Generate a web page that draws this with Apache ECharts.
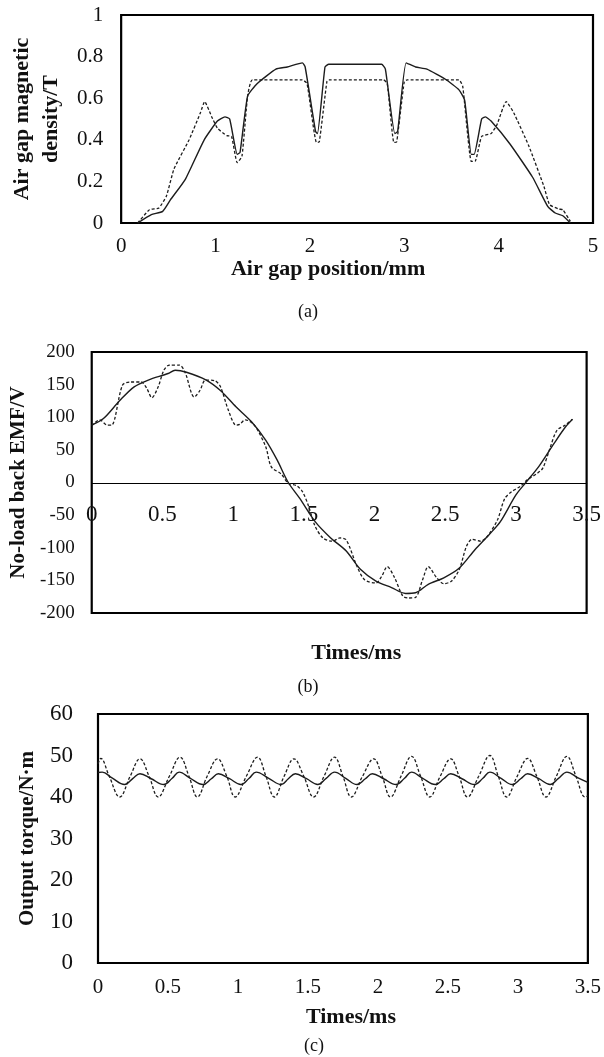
<!DOCTYPE html>
<html>
<head>
<meta charset="utf-8">
<script src="https://cdn.jsdelivr.net/npm/echarts@6/dist/echarts.min.js"></script>
<style>
html,body{margin:0;padding:0;background:#fff;}
#c{width:604px;height:1057px;}
</style>
</head>
<body>
<div id="c"></div>
<script>
// ---------- (a) Air gap magnetic density ----------
const airSolid = [
 [0.176,0],[0.32,0.04],[0.44,0.056],[0.52,0.11],[0.68,0.21],[0.88,0.40],[1.02,0.49],[1.10,0.51],[1.15,0.50],
 [1.23,0.33],[1.26,0.34],[1.34,0.61],[1.44,0.67],[1.64,0.74],[1.76,0.75],[1.92,0.77],[1.95,0.75],
 [2.06,0.44],[2.08,0.43],[2.16,0.75],[2.20,0.763],[2.76,0.763],[2.80,0.74],[2.90,0.43],[2.93,0.44],
 [3.02,0.77],[3.12,0.75],[3.24,0.74],[3.44,0.69],[3.58,0.64],[3.64,0.59],[3.71,0.33],[3.74,0.33],
 [3.82,0.50],[3.86,0.51],[3.92,0.49],[4.12,0.38],[4.36,0.22],[4.52,0.08],[4.60,0.048],[4.68,0.035],[4.76,0]
];
const airDashed = [
 [0.176,0],[0.30,0.064],[0.40,0.072],[0.48,0.13],[0.56,0.26],[0.72,0.40],[0.84,0.53],[0.885,0.584],[0.96,0.51],
 [1.02,0.456],[1.12,0.42],[1.17,0.416],[1.23,0.29],[1.28,0.32],[1.34,0.61],[1.39,0.688],[1.92,0.688],[1.97,0.67],
 [2.07,0.387],[2.10,0.39],[2.18,0.68],[2.20,0.688],[2.78,0.688],[2.82,0.67],[2.89,0.387],[2.92,0.39],[3.00,0.68],
 [3.03,0.688],[3.58,0.688],[3.62,0.656],[3.71,0.296],[3.75,0.296],[3.82,0.416],[3.92,0.43],[3.98,0.47],[4.08,0.584],
 [4.16,0.53],[4.32,0.37],[4.48,0.176],[4.54,0.088],[4.64,0.067],[4.68,0.064],[4.76,0.008]
];

// ---------- (b) No-load back EMF ----------
const emfSolid = [
 [0,88],[0.083,98],[0.20,126],[0.30,146.6],[0.40,157],[0.54,167],[0.59,172],[0.67,169],[0.81,157],[0.91,141],
 [1.02,116],[1.13,93],[1.23,65],[1.31,35],[1.39,0],[1.47,-24],[1.58,-60],[1.69,-85],[1.80,-105],[1.90,-133],
 [2.01,-151],[2.12,-161],[2.22,-170],[2.29,-169],[2.38,-156],[2.49,-146],[2.60,-131],[2.71,-103],[2.81,-80],
 [2.89,-60],[3.00,-19],[3.07,0],[3.16,24],[3.27,60],[3.35,85],[3.40,97]
];
const emfDashed = [
 [0,87],[0.056,96],[0.11,88],[0.14,88],[0.217,149],[0.27,154],[0.35,154],[0.39,144],[0.425,130],[0.47,146.6],
 [0.51,172],[0.55,180],[0.62,180],[0.66,169],[0.725,131],[0.765,141],[0.805,157],[0.87,156],[0.91,147],[0.966,111],
 [1.02,88],[1.046,89],[1.086,96],[1.15,88],[1.23,55],[1.27,24],[1.34,13],[1.39,-1],[1.45,-5],[1.49,-14],[1.53,-34],
 [1.58,-67],[1.635,-85],[1.70,-90],[1.755,-85],[1.80,-88],[1.875,-128],[1.93,-149],[2.01,-154],[2.05,-144],
 [2.09,-129],[2.14,-145],[2.20,-174],[2.24,-177],[2.29,-176],[2.34,-149],[2.38,-129],[2.44,-146],[2.49,-155],
 [2.545,-151],[2.60,-133],[2.65,-98],[2.69,-87],[2.75,-90],[2.80,-82],[2.87,-57],[2.92,-25],[2.97,-14],[3.03,-6],
 [3.08,4],[3.15,14],[3.19,22],[3.24,52],[3.29,80],[3.35,88],[3.40,97]
];

// ---------- (c) Output torque ----------
const torqueSolid = [
 [0.00,45.9],[0.03,46.0],[0.10,44.6],[0.19,43.0],[0.25,44.5],[0.30,45.6],[0.38,44.4],[0.47,43.0],[0.53,44.5],
 [0.58,46.0],[0.66,44.5],[0.75,43.0],[0.81,44.4],[0.86,45.6],[0.94,44.4],[1.02,43.0],[1.08,44.5],[1.13,46.0],
 [1.22,44.5],[1.31,43.0],[1.36,44.4],[1.41,45.6],[1.49,44.4],[1.57,43.0],[1.63,44.5],[1.69,46.0],[1.77,44.5],
 [1.85,43.0],[1.91,44.4],[1.96,45.6],[2.04,44.4],[2.13,43.0],[2.19,44.5],[2.24,46.0],[2.32,44.5],[2.41,43.0],
 [2.47,44.4],[2.52,45.6],[2.60,44.4],[2.69,43.0],[2.75,44.5],[2.80,46.0],[2.88,44.5],[2.96,43.0],[3.02,44.4],
 [3.07,45.6],[3.15,44.4],[3.23,43.0],[3.29,44.5],[3.35,46.0],[3.43,44.6],[3.50,43.5]
];
const torqueDashed = [
 [0.00,48.0],[0.02,49.3],[0.08,45.0],[0.155,40.0],[0.23,45.0],[0.30,49.2],[0.365,45.0],[0.43,40.0],[0.51,45.0],
 [0.586,49.6],[0.65,45.0],[0.71,40.0],[0.78,45.0],[0.854,49.2],[0.92,45.0],[0.98,40.0],[1.06,45.0],[1.14,49.6],
 [1.20,45.0],[1.26,40.0],[1.33,45.0],[1.40,49.2],[1.47,45.0],[1.54,40.0],[1.615,45.0],[1.69,49.6],[1.75,45.0],
 [1.81,40.0],[1.89,45.0],[1.97,49.2],[2.03,45.0],[2.09,40.0],[2.165,45.0],[2.24,49.8],[2.305,45.0],[2.37,40.0],
 [2.445,45.0],[2.52,49.2],[2.58,45.0],[2.64,40.0],[2.72,45.0],[2.80,50.0],[2.86,45.0],[2.92,40.0],[2.995,45.0],
 [3.07,49.3],[3.135,45.0],[3.20,40.0],[3.275,45.0],[3.35,49.8],[3.415,45.0],[3.48,40.0],[3.50,40.3]
];

const captions = ['(a)', '(b)', '(c)'];
const axisTitles = {
  aX: 'Air gap position/mm', aY: 'Air gap magnetic\ndensity/T',
  bX: 'Times/ms', bY: 'No-load back EMF/V',
  cX: 'Times/ms', cY: 'Output torque/N\u00b7m'
};

const SERIF = '"Liberation Serif", "Times New Roman", serif';
const INK = '#111';

function lab(size) { return { color: INK, fontFamily: SERIF, fontSize: size }; }
function ttl(size, extra) { return Object.assign({ color: INK, fontFamily: SERIF, fontSize: size, fontWeight: 'bold' }, extra || {}); }

const solidStyle = { color: '#1c1c1c', width: 1.4 };
const dashStyle = { color: '#1c1c1c', width: 1.3, type: [3, 2] };

const chart = echarts.init(document.getElementById('c'), null, { renderer: 'canvas' });
chart.setOption({
  animation: false,
  backgroundColor: '#fff',
  grid: [
    { left: 112, top: 15, width: 481, height: 208, show: true, borderColor: '#000', borderWidth: 2.2 },
    { left: 84, top: 352, width: 505, height: 261, show: true, borderColor: '#000', borderWidth: 2.2 },
    { left: 98, top: 714, width: 494, height: 249, show: true, borderColor: '#000', borderWidth: 2.2 }
  ],
  xAxis: [
    { gridIndex: 0, type: 'value', min: 0, max: 5, interval: 1,
      axisLine: { show: false }, axisTick: { show: false }, splitLine: { show: false },
      axisLabel: Object.assign(lab(21), { margin: 13 }),
      name: axisTitles.aX, nameLocation: 'middle', nameGap: 28,
      nameTextStyle: ttl(22, { padding: [0, 58, 0, 0] }) },
    { gridIndex: 1, type: 'value', min: 0, max: 3.5, interval: 0.5, position: 'bottom', offset: -130,
      axisLine: { show: true, onZero: false, lineStyle: { color: '#000', width: 1.2 } },
      axisTick: { show: false }, splitLine: { show: false },
      axisLabel: Object.assign(lab(23), { margin: 20 }),
      name: axisTitles.bX, nameLocation: 'middle', nameGap: 159,
      nameTextStyle: ttl(22, { padding: [0, 0, 0, 34] }) },
    { gridIndex: 2, type: 'value', min: 0, max: 3.5, interval: 0.5,
      axisLine: { show: false }, axisTick: { show: false }, splitLine: { show: false },
      axisLabel: Object.assign(lab(21), { margin: 14 }),
      name: axisTitles.cX, nameLocation: 'middle', nameGap: 43,
      nameTextStyle: ttl(22, { padding: [0, 0, 0, 16] }) }
  ],
  yAxis: [
    { gridIndex: 0, type: 'value', min: 0, max: 1, interval: 0.2,
      axisLine: { show: false }, axisTick: { show: false }, splitLine: { show: false },
      axisLabel: Object.assign(lab(21), { margin: 18 }),
      name: axisTitles.aY, nameLocation: 'middle', nameGap: 52,
      nameTextStyle: ttl(22, { lineHeight: 29 }) },
    { gridIndex: 1, type: 'value', min: -200, max: 200, interval: 50,
      axisLine: { show: false }, axisTick: { show: false }, splitLine: { show: false },
      axisLabel: Object.assign(lab(19), { margin: 17 }),
      name: axisTitles.bY, nameLocation: 'middle', nameGap: 58,
      nameTextStyle: ttl(21) },
    { gridIndex: 2, type: 'value', min: 0, max: 60, interval: 10,
      axisLine: { show: false }, axisTick: { show: false }, splitLine: { show: false },
      axisLabel: Object.assign(lab(23), { margin: 25 }),
      name: axisTitles.cY, nameLocation: 'middle', nameGap: 60,
      nameTextStyle: ttl(21) }
  ],
  series: [
    { type: 'line', xAxisIndex: 0, yAxisIndex: 0, data: airSolid, symbol: 'none', smooth: 0.15, lineStyle: solidStyle },
    { type: 'line', xAxisIndex: 0, yAxisIndex: 0, data: airDashed, symbol: 'none', smooth: 0.15, lineStyle: dashStyle },
    { type: 'line', xAxisIndex: 1, yAxisIndex: 1, data: emfSolid, symbol: 'none', smooth: 0.3, lineStyle: solidStyle },
    { type: 'line', xAxisIndex: 1, yAxisIndex: 1, data: emfDashed, symbol: 'none', smooth: 0.3, lineStyle: dashStyle },
    { type: 'line', xAxisIndex: 2, yAxisIndex: 2, data: torqueSolid, symbol: 'none', smooth: 0.4, lineStyle: solidStyle },
    { type: 'line', xAxisIndex: 2, yAxisIndex: 2, data: torqueDashed, symbol: 'none', smooth: 0.4, lineStyle: dashStyle }
  ],
  graphic: [
    { type: 'text', x: 308, y: 312, style: { text: captions[0], align: 'center', verticalAlign: 'middle', font: '18px ' + SERIF, fill: INK } },
    { type: 'text', x: 308, y: 687, style: { text: captions[1], align: 'center', verticalAlign: 'middle', font: '18px ' + SERIF, fill: INK } },
    { type: 'text', x: 314, y: 1046, style: { text: captions[2], align: 'center', verticalAlign: 'middle', font: '18px ' + SERIF, fill: INK } }
  ]
});
</script>
</body>
</html>
